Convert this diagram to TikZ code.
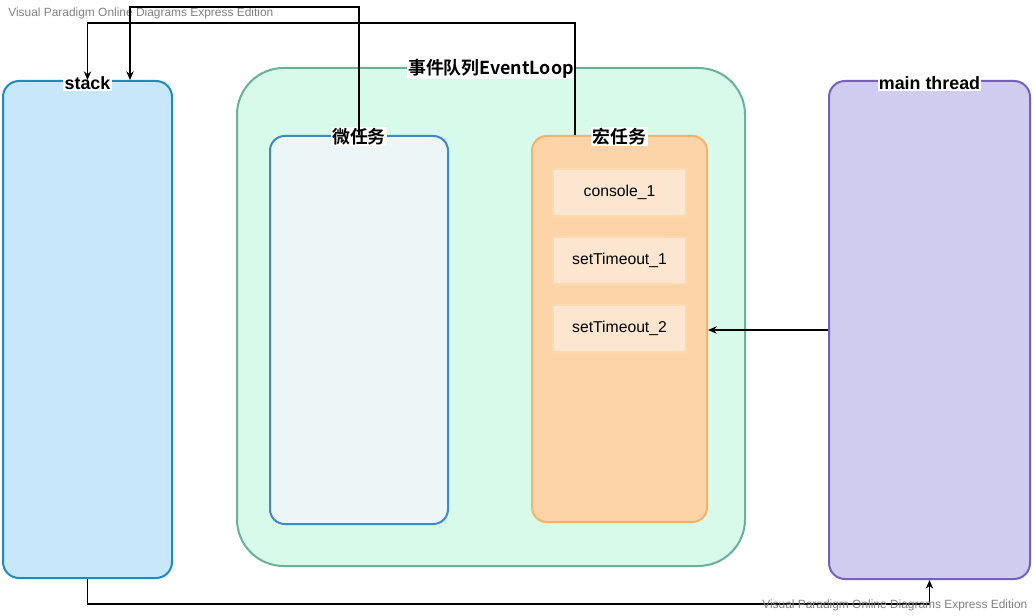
\documentclass[tikz,border=0pt]{standalone}
\usepackage{fontspec}
\setmainfont{Liberation Sans}
\newfontfamily\cjk{Noto Sans CJK SC}[BoldFont={* Bold}]
\usetikzlibrary{calc,arrows.meta}
\definecolor{stackfill}{HTML}{C9E7FB}
\definecolor{stackdraw}{HTML}{1E8BBF}
\definecolor{loopfill}{HTML}{D8FAEB}
\definecolor{loopdraw}{HTML}{6BB09B}
\definecolor{microfill}{HTML}{ECF6F6}
\definecolor{microdraw}{HTML}{3F89C6}
\definecolor{macrofill}{HTML}{FDD4A8}
\definecolor{macrodraw}{HTML}{F5B26B}
\definecolor{itemfill}{HTML}{FCE6CF}
\definecolor{itemdraw}{HTML}{FBD9B2}
\definecolor{mainfill}{HTML}{D0CCF0}
\definecolor{maindraw}{HTML}{7560C0}
\definecolor{wm}{HTML}{808080}
\begin{document}
\begin{tikzpicture}[x=0.75pt,y=-0.75pt,
  box/.style={draw,rounded corners=#1,line width=1.5pt,inner sep=0pt},
  lbl/.style={fill=white,inner sep=1pt,font=\bfseries\fontsize{13.4}{15}\selectfont},
  item/.style={draw=itemdraw,fill=itemfill,line width=0.9pt,minimum width=133*0.75pt,minimum height=47*0.75pt,inner sep=0pt,font=\fontsize{11.8}{13}\selectfont},
  conn/.style={line width=0.8pt,-{Stealth[length=6.5pt,width=5.5pt]}},
  water/.style={text=wm,font=\fontsize{8.95}{10}\selectfont,inner sep=0pt,anchor=west}]
\useasboundingbox (0,0) rectangle (1035,616);
% boxes
\node[box=12pt,draw=stackdraw,fill=stackfill,minimum width=169*0.75pt,minimum height=497*0.75pt] (stack) at (87.5,329.5) {};
\node[box=35pt,draw=loopdraw,fill=loopfill,minimum width=508*0.75pt,minimum height=498*0.75pt] (loop) at (491,317) {};
\node[box=11pt,draw=microdraw,fill=microfill,minimum width=178*0.75pt,minimum height=388*0.75pt] (micro) at (359,330) {};
\node[box=11pt,draw=macrodraw,fill=macrofill,minimum width=175*0.75pt,minimum height=386*0.75pt] (macro) at (619.5,329) {};
\node[box=12pt,draw=maindraw,fill=mainfill,minimum width=201*0.75pt,minimum height=498*0.75pt] (main) at (929.5,330) {};
% items
\node[item] (c1) at (619.5,192.5) {console\_1};
\node[item] (s1) at (619.5,260.5) {setTimeout\_1};
\node[item] (s2) at (619.5,328.5) {setTimeout\_2};
% labels
\node[lbl] (lstack) at ([yshift=-2pt]stack.north) {stack};
\node[lbl] (lloop) at ([yshift=-1pt]loop.north) {\cjk\bfseries 事件队列EventLoop};
\node[lbl] (lmicro) at ([yshift=-1pt]micro.north) {\cjk\bfseries 微任务};
\node[lbl] (lmacro) at ([yshift=-1pt]macro.north) {\cjk\bfseries 宏任务};
\node[lbl] (lmain) at ([yshift=-2pt]main.north) {main thread};
% watermarks
\node[water] (w1) at (8,13) {Visual Paradigm Online Diagrams Express Edition};
% connectors
\coordinate (mt) at ($(macro.north)+(-44.5,0)$);
\coordinate (st2) at ($(stack.north)+(42.5,0)$);
\draw[conn] (mt) -- ++(0,-112) -| (stack.north);
\draw[conn] (micro.north) -- ++(0,-128) -| (st2);
\draw[conn] (main.west) -- (main.west -| macro.east);
\draw[conn] (stack.south) -- ++(0,25) -| (main.south);
\node[water] (w2) at (762,605) {Visual Paradigm Online Diagrams Express Edition};
\end{tikzpicture}
\end{document}
